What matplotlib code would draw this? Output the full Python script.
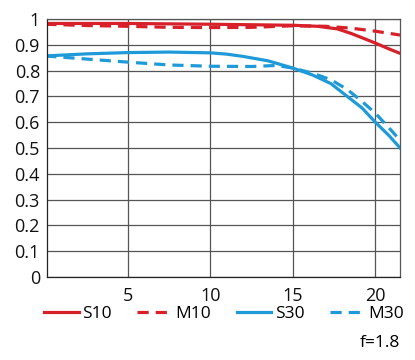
import matplotlib.pyplot as plt

# MTF readings (image height in mm vs contrast)
x_s10 = [0, 5, 10, 15, 16.5, 17.7, 18.5, 19.3, 20, 20.8, 21.5]
s10 = [0.983, 0.983, 0.98, 0.976, 0.972, 0.962, 0.945, 0.925, 0.907, 0.885, 0.867]

x_m10 = [0, 2.5, 5, 7.5, 10, 12.5, 15, 17, 18.5, 20, 21.5]
m10 = [0.98, 0.975, 0.972, 0.968, 0.967, 0.968, 0.974, 0.972, 0.965, 0.953, 0.938]

x_s30 = [0, 2.5, 5, 7.5, 10, 11, 12, 13.5, 15, 16.2, 17.3, 18.3, 19.2, 20, 20.8, 21.5]
s30 = [0.857, 0.865, 0.87, 0.872, 0.869, 0.864, 0.855, 0.838, 0.81, 0.783, 0.75, 0.70, 0.655, 0.60, 0.55, 0.50]

x_m30 = [0, 2.5, 5, 7.5, 10, 12.5, 14, 15, 16.2, 17.3, 18.3, 19.2, 20, 20.8, 21.5]
m30 = [0.857, 0.845, 0.833, 0.822, 0.817, 0.816, 0.82, 0.81, 0.79, 0.765, 0.727, 0.68, 0.635, 0.58, 0.53]

xticks = [5, 10, 15, 20]
yticks = [0, 0.1, 0.2, 0.3, 0.4, 0.5, 0.6, 0.7, 0.8, 0.9, 1]
ytick_labels = ["0", "0.1", "0.2", "0.3", "0.4", "0.5", "0.6", "0.7", "0.8", "0.9", "1"]

red = "#d7202a"
blue = "#1f9ad8"

plt.rcParams["font.family"] = ["Open Sans", "DejaVu Sans"]

fig = plt.figure(figsize=(4.15, 3.6), dpi=100)
ax = fig.add_axes([0.113, 0.231, 0.851, 0.716])

lw = 2.3
ax.plot(x_s10, s10, color=red, lw=lw, label="S10")
ax.plot(x_m10, m10, color=red, lw=lw, dashes=(3.5, 2.2), label="M10")
ax.plot(x_s30, s30, color=blue, lw=lw, label="S30")
ax.plot(x_m30, m30, color=blue, lw=lw, dashes=(3.5, 2.2), label="M30")

ax.set_xlim(0.1, 21.5)
ax.set_ylim(0, 1)
ax.set_xticks(xticks)
ax.set_yticks(yticks)
ax.set_yticklabels(ytick_labels)
ax.tick_params(length=0, labelsize=13, colors="#111111")
ax.tick_params(axis="y", pad=5)
ax.tick_params(axis="x", pad=7)
ax.grid(True, color="#555555", lw=0.9)
ax.set_axisbelow(True)
for s in ax.spines.values():
    s.set_color("#555555")
    s.set_linewidth(0.9)
ax.spines["left"].set_color("#222222")
ax.spines["bottom"].set_color("#222222")

fig.legend(loc="lower left", bbox_to_anchor=(44 / 415, 0.105, 360 / 415, 0.06),
           mode="expand", ncol=4, frameon=False, fontsize=12.5,
           handlelength=2.0, handletextpad=0.2, borderpad=0, borderaxespad=0)

fig.text(0.964, 0.047, "f=1.8", ha="right", va="center", fontsize=12.5)

fig.savefig("out.png", dpi=100)
